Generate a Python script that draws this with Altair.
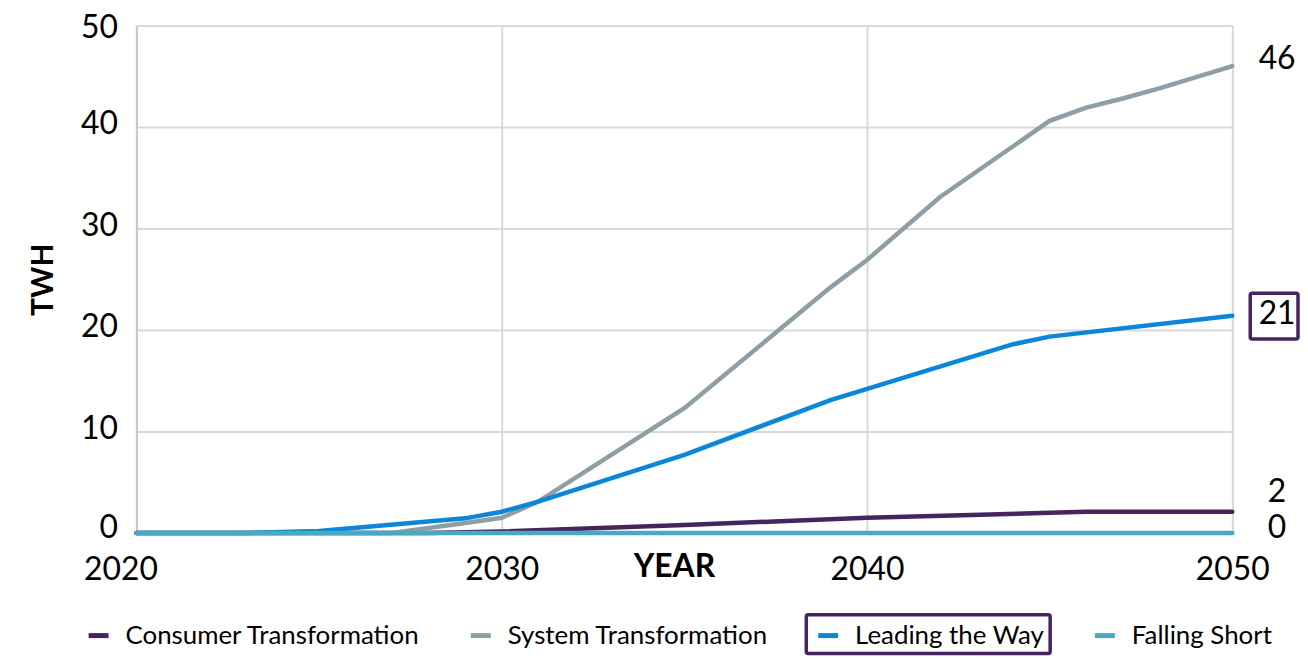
import altair as alt
import pandas as pd

# ---- data ----
series_names = ["Consumer Transformation", "System Transformation", "Leading the Way", "Falling Short"]
series_colors = ["#46245f", "#8d9fa5", "#0a87d9", "#4aa9c2"]

ct_years = [2020, 2028, 2030, 2035, 2040, 2045, 2046, 2050]
ct_values = [0, 0, 0.15, 0.8, 1.5, 2.0, 2.1, 2.1]

st_years = [2020, 2027, 2029, 2030, 2031, 2035, 2039, 2040, 2042, 2045, 2046, 2047, 2048, 2050]
st_values = [0, 0, 1.0, 1.5, 3.1, 12.3, 24.2, 26.9, 33.1, 40.6, 41.9, 42.8, 43.8, 46.0]

lw_years = [2020, 2023, 2025, 2029, 2030, 2031, 2035, 2039, 2044, 2045, 2050]
lw_values = [0, 0, 0.2, 1.45, 2.1, 3.1, 7.7, 13.1, 18.6, 19.35, 21.4]

fs_years = [2020, 2050]
fs_values = [0, 0]

x_ticks = [2020, 2030, 2040, 2050]
y_ticks = [0, 10, 20, 30, 40, 50]

rows = []
for name, ys, vs in zip(series_names,
                        [ct_years, st_years, lw_years, fs_years],
                        [ct_values, st_values, lw_values, fs_values]):
    for i, (y, v) in enumerate(zip(ys, vs)):
        rows.append({"series": name, "year": y, "twh": v, "order": i})
df = pd.DataFrame(rows)

ends = df.sort_values("year").groupby("series", sort=False).tail(1).copy()
ends["label"] = ends["twh"].round().astype(int).astype(str)

FONT = "Lato"

x_enc = alt.X("year:Q", scale=alt.Scale(domain=[2020, 2050], nice=False, zero=False),
              axis=alt.Axis(values=x_ticks, format="d", title="YEAR", grid=True,
                            ticks=False, domain=False, labelPadding=22, labelFlush=False,
                            labelOffset={"condition": {"test": "datum.value == 2020", "value": -16},
                                         "value": 0},
                            labelFontSize=32, labelColor="#000000", labelFont=FONT,
                            titleFont=FONT, titleFontSize=32, titleFontWeight="bold",
                            titleColor="#000000", titleX=540, titleY=34,
                            titleBaseline="middle", titleAlign="center",
                            gridColor="#d9d9d9", gridWidth=2))
y_enc = alt.Y("twh:Q", scale=alt.Scale(domain=[0, 50], nice=False),
              axis=alt.Axis(values=y_ticks, title="TWH", grid=True, ticks=False,
                            domain=True, domainColor="#c8c8c8", domainWidth=2,
                            labelFlush=False,
                            labelOffset={"condition": [
                                {"test": "datum.value == 0", "value": -6},
                                {"test": "datum.value == 50", "value": 2}],
                                "value": -3},
                            labelPadding=19, labelFontSize=32, labelColor="#000000",
                            labelFont=FONT, titleFont=FONT, titleFontSize=30,
                            titleFontWeight="bold", titleColor="#000000",
                            titleX=-93, titleY=255, titleAngle=-90,
                            titleBaseline="middle", titleAlign="center",
                            gridColor="#d9d9d9", gridWidth=2))

color_enc = alt.Color("series:N",
                      scale=alt.Scale(domain=series_names, range=series_colors),
                      legend=alt.Legend(title=None, orient="none", direction="horizontal",
                                        legendX=-51, legendY=600,
                                        symbolType="stroke", symbolStrokeWidth=5,
                                        symbolSize=400, labelFont=FONT, labelFontSize=26,
                                        labelColor="#000000", labelOffset=14,
                                        labelLimit=500, columnPadding=40))

lines = alt.Chart(df).mark_line(strokeWidth=4.5, strokeCap="round").encode(
    x=x_enc, y=y_enc, color=color_enc, order="order:Q",
    detail="series:N"
)

def end_label(name, dy):
    return alt.Chart(ends[ends["series"] == name]).mark_text(
        font=FONT, fontSize=32, color="#000000", align="center",
        baseline="middle", dx=45, dy=dy
    ).encode(x="year:Q", y="twh:Q", text="label:N")

labels = (end_label("System Transformation", -7)
          + end_label("Leading the Way", -2)
          + end_label("Consumer Transformation", -20)
          + end_label("Falling Short", -5))

box_df = pd.DataFrame({"k": [0]})
box21 = alt.Chart(box_df).mark_rect(fill="white", fillOpacity=0, stroke="#46245f",
                                    strokeWidth=3.5, cornerRadius=2).encode(
    x=alt.value(1119), x2=alt.value(1167), y=alt.value(269), y2=alt.value(315)
)
box_leg = alt.Chart(box_df).mark_rect(fill="white", fillOpacity=0, stroke="#46245f",
                                      strokeWidth=3.5, cornerRadius=2).encode(
    x=alt.value(673), x2=alt.value(918), y=alt.value(592), y2=alt.value(631)
)

chart = alt.layer(lines, labels, box21, box_leg).properties(
    width=1101, height=510,
    autosize=alt.AutoSizeParams(type="none"),
    padding={"left": 129, "top": 16, "right": 68, "bottom": 122},
).configure_view(stroke=None).configure(background="white")

chart.save("out.html", embed_options={"renderer": "svg", "actions": False})
